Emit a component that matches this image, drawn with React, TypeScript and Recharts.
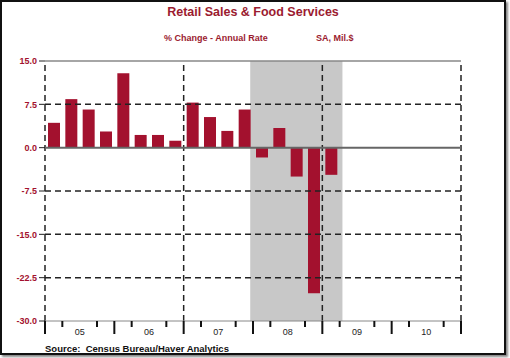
import { Bar, BarChart, ReferenceArea, ReferenceLine, XAxis, YAxis } from 'recharts';

const quarters = [
  '2005Q1', '2005Q2', '2005Q3', '2005Q4',
  '2006Q1', '2006Q2', '2006Q3', '2006Q4',
  '2007Q1', '2007Q2', '2007Q3', '2007Q4',
  '2008Q1', '2008Q2', '2008Q3', '2008Q4',
  '2009Q1',
];
const pctChange = [4.3, 8.4, 6.6, 2.8, 12.9, 2.2, 2.2, 1.2, 7.8, 5.3, 2.9, 6.6, -1.7, 3.4, -5.0, -25.2, -4.7];
const years = [2005, 2006, 2007, 2008, 2009, 2010];
const yearLabels = ['05', '06', '07', '08', '09', '10'];
const yTicks = [15, 7.5, 0, -7.5, -15, -22.5, -30];
const recession = [2007.96, 2009.29];

const RED = '#a3112e';
const FONT = '"Liberation Sans", Arial, sans-serif';

const data = quarters.map((q, i) => ({
  t: Number(q.slice(0, 4)) + (Number(q.slice(5)) - 1) / 4 + 0.125,
  v: pctChange[i],
}));

const xTicks: number[] = [];
years.forEach((y) => [0, 0.25, 0.5, 0.75].forEach((f) => xTicks.push(y + f)));
xTicks.push(2011);

const XTick = (props: any) => {
  const { x, y, payload } = props;
  const v = payload.value;
  const frac = Math.round((v % 1) * 4);
  if (frac === 2) {
    const idx = years.indexOf(Math.floor(v));
    return (
      <text x={x} y={y + 6} textAnchor="middle" fontSize={9} fontFamily={FONT} fill="#222">
        {yearLabels[idx]}
      </text>
    );
  }
  const len = frac === 0 ? 13 : 6;
  return <line x1={x} x2={x} y1={y - 8} y2={y - 8 + len} stroke="#111" strokeWidth={2} />;
};

const RightTick = (props: any) => {
  const { x, y, payload } = props;
  return (
    <text x={x + 19} y={y + 3} textAnchor="start" fontSize={9} fontFamily={FONT} fontWeight="bold" fill={RED}>
      {payload.value.toFixed(1)}
    </text>
  );
};

const fmt = (v: number) => v.toFixed(1);

export default function App() {
  return (
    <div style={{ position: 'absolute', left: 0, top: 0, width: 510, height: 358, background: '#fff' }}>
      <div
        style={{
          position: 'absolute', left: 0, top: 0, width: 506, height: 355, boxSizing: 'border-box',
          border: '2px solid #111', boxShadow: '2px 2px 2px #888',
        }}
      />
      <div style={{ position: 'absolute', left: 0, width: 506, top: 5, textAlign: 'center', color: '#9b1b30', fontFamily: FONT, fontWeight: 'bold', fontSize: 12.5 }}>
        Retail Sales &amp; Food Services
      </div>
      <div style={{ position: 'absolute', left: 164, top: 33, color: '#9b1b30', fontFamily: FONT, fontWeight: 'bold', fontSize: 9 }}>
        % Change - Annual Rate
      </div>
      <div style={{ position: 'absolute', left: 316, top: 33, color: '#9b1b30', fontFamily: FONT, fontWeight: 'bold', fontSize: 9 }}>
        SA, Mil.$
      </div>
      <div style={{ position: 'absolute', left: 45, top: 343, color: '#111', fontFamily: FONT, fontWeight: 'bold', fontSize: 9.5 }}>
        Source:&nbsp;&nbsp;Census Bureau/Haver Analytics
      </div>
      <div style={{ position: 'absolute', left: 0, top: 0 }}>
        <BarChart width={510} height={358} data={data} margin={{ top: 61, right: 0, left: 0, bottom: 15 }}>
          <XAxis
            dataKey="t"
            type="number"
            domain={[2005, 2011]}
            ticks={xTicks}
            interval={0}
            tick={<XTick />}
            tickLine={false}
            axisLine={{ stroke: '#888', strokeWidth: 1 }}
            height={22}
          />
          <YAxis
            yAxisId="l"
            domain={[-30, 15]}
            ticks={yTicks}
            interval={0}
            width={45}
            tickFormatter={fmt}
            axisLine={false}
            tickLine={{ stroke: '#222' }}
            tickSize={6}
            tick={{ fill: RED, fontSize: 9, fontFamily: FONT, fontWeight: 'bold' }}
          />
          <YAxis
            yAxisId="r"
            orientation="right"
            domain={[-30, 15]}
            ticks={yTicks}
            interval={0}
            width={49}
            axisLine={false}
            tickLine={{ stroke: '#222' }}
            tickSize={6}
            tick={<RightTick />}
          />
          <ReferenceArea yAxisId="l" x1={recession[0]} x2={recession[1]} y1={-30} y2={15} fill="#c8c8c8" fillOpacity={1} stroke="none" />
          {[7.5, -7.5, -15, -22.5].map((y) => (
            <ReferenceLine key={y} yAxisId="l" y={y} stroke="#222" strokeWidth={1.5} strokeDasharray="6 4" />
          ))}
          {[2005, 2007, 2009, 2011].map((x) => (
            <ReferenceLine key={x} yAxisId="l" x={x} stroke="#222" strokeWidth={1.5} strokeDasharray="6 4" />
          ))}
          <ReferenceLine yAxisId="l" y={15} stroke="#888" strokeWidth={1.5} />
          <Bar yAxisId="l" dataKey="v" fill={RED} barSize={12} isAnimationActive={false} />
          <ReferenceLine yAxisId="l" y={0} stroke="#666" strokeWidth={2} />
        </BarChart>
      </div>
    </div>
  );
}
